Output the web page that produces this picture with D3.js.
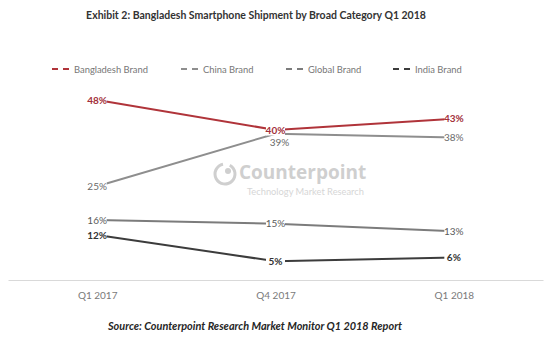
<!DOCTYPE html>
<html>
<head>
<meta charset="utf-8">
<script src="https://cdn.jsdelivr.net/npm/d3@7"></script>
<style>
  html, body { margin: 0; padding: 0; background: #fff; }
  svg { display: block; font-family: Lato, "Open Sans", sans-serif; }
</style>
</head>
<body>
<svg id="chart" width="554" height="342"></svg>
<script>
// Quarters on the category axis
const quarters = ["Q1 2017", "Q4 2017", "Q1 2018"];

// Share of smartphone shipments (%) by brand origin
const seriesNames = ["Bangladesh Brand", "China Brand", "Global Brand", "India Brand"];
const bangladeshBrand = [48, 40, 43];
const chinaBrand = [25, 39, 38];
const globalBrand = [16, 15, 13];
const indiaBrand = [12, 5, 6];

const titleText = "Exhibit 2: Bangladesh Smartphone Shipment by Broad Category Q1 2018";
const sourceText = "Source: Counterpoint Research Market Monitor Q1 2018 Report";

const series = [
  { name: seriesNames[0], values: bangladeshBrand, color: "#b0343a", labelColor: "#a3303a", bold: true },
  { name: seriesNames[1], values: chinaBrand, color: "#8e8e8e", labelColor: "#6a6a6a", bold: false },
  { name: seriesNames[2], values: globalBrand, color: "#7c7c7c", labelColor: "#5a5a5a", bold: false },
  { name: seriesNames[3], values: indiaBrand, color: "#3c3c3c", labelColor: "#333333", bold: true }
];

const svg = d3.select("#chart");

const x = d3.scalePoint().domain(quarters).range([8, 543]).padding(0.5);
const y = d3.scaleLinear().domain([0, 48]).range([280, 100]);

// Title
svg.append("text")
  .attr("x", 256).attr("y", 19)
  .attr("text-anchor", "middle")
  .attr("font-size", 10.5).attr("font-weight", 700)
  .attr("fill", "#333")
  .text(titleText);

// Watermark logo
const wm = svg.append("g").attr("fill", "#cfcfcf");
const arc = d3.arc().innerRadius(8.5).outerRadius(11.5).startAngle(0.5).endAngle(2 * Math.PI - 0.2);
wm.append("path").attr("d", arc()).attr("transform", "translate(225,174)");
wm.append("circle").attr("cx", 228).attr("cy", 171).attr("r", 3);
wm.append("text")
  .attr("x", 239).attr("y", 179)
  .attr("font-size", 19).attr("font-weight", 700)
  .attr("font-family", "'Open Sans', sans-serif")
  .text("Counterpoint");
wm.append("text")
  .attr("x", 247).attr("y", 195)
  .attr("font-size", 9.3).attr("fill", "#d6d6d6")
  .text("Technology Market Research");

// Category axis
const axis = svg.append("g").attr("transform", "translate(0,280)")
  .call(d3.axisBottom(x).tickSize(0).tickPadding(12));
axis.select(".domain").attr("stroke", "#d9d9d9").attr("stroke-width", 1.2);
axis.selectAll(".tick text")
  .attr("font-size", 10).attr("fill", "#7a7a7a")
  .attr("font-family", "Lato, sans-serif");

// Lines
const line = d3.line()
  .x((d, i) => x(quarters[i]))
  .y(d => y(d));

svg.append("g").selectAll("path")
  .data(series)
  .join("path")
  .attr("fill", "none")
  .attr("stroke", d => d.color)
  .attr("stroke-width", 2)
  .attr("d", d => line(d.values));

// Value labels, centred on each point over a white backing
const labelOffset = (s, i) => (s.name === "China Brand" && i === 1) ? [4, 9] : [0, 0];
series.forEach(s => {
  const g = svg.append("g");
  s.values.forEach((v, i) => {
    const [dx, dy] = labelOffset(s, i);
    const cx = x(quarters[i]) + dx;
    const cy = y(v) + dy;
    g.append("rect")
      .attr("x", cx - 9.5).attr("y", cy - 5.5)
      .attr("width", 19).attr("height", 11)
      .attr("fill", "#fff");
    g.append("text")
      .attr("x", cx).attr("y", cy + 3.5)
      .attr("text-anchor", "middle")
      .attr("font-size", 10)
      .attr("font-weight", s.bold ? 700 : 400)
      .attr("fill", s.labelColor)
      .text(v + "%");
  });
});

// Legend
const legendX = [52, 181, 286, 393];
const legend = svg.append("g");
series.forEach((s, i) => {
  const g = legend.append("g").attr("transform", `translate(${legendX[i]},69)`);
  g.append("line")
    .attr("x1", 0).attr("x2", 20).attr("y1", 0).attr("y2", 0)
    .attr("stroke", s.color).attr("stroke-width", 2)
    .attr("stroke-dasharray", "6,5");
  g.append("text")
    .attr("x", 22).attr("y", 3.5)
    .attr("font-size", 9.4).attr("fill", "#777")
    .text(s.name);
});

// Source note
svg.append("text")
  .attr("x", 255).attr("y", 330)
  .attr("text-anchor", "middle")
  .attr("font-size", 10.9).attr("font-weight", 700).attr("font-style", "italic")
  .attr("fill", "#262626")
  .text(sourceText);
</script>
</body>
</html>
